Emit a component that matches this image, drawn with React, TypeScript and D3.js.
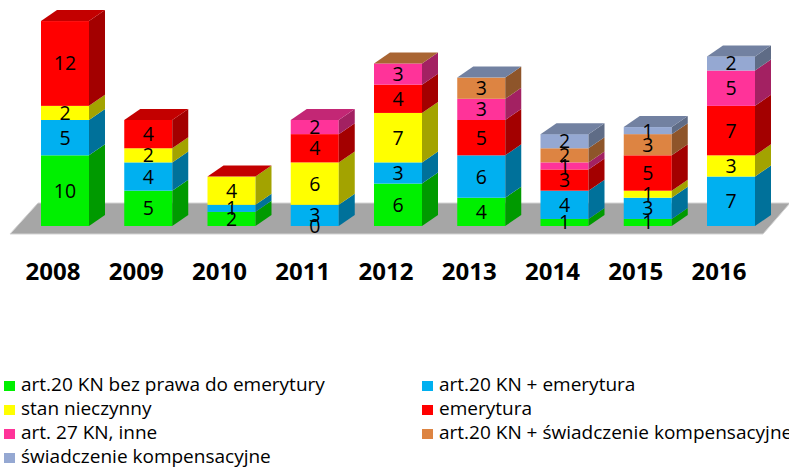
import React, { useEffect, useRef } from "react";
import * as d3 from "d3";

const years = ["2008", "2009", "2010", "2011", "2012", "2013", "2014", "2015", "2016"];

const seriesNames = [
  "art.20 KN bez prawa do emerytury",
  "art.20 KN + emerytura",
  "stan nieczynny",
  "emerytura",
  "art. 27 KN, inne",
  "art.20 KN + świadczenie kompensacyjne",
  "świadczenie kompensacyjne",
];

const seriesColors = ["#00f000", "#00b0f0", "#ffff00", "#ff0000", "#ff3399", "#dd8442", "#95a8d2"];

// null = empty cell
const artBezPrawa = [10, 5, 2, 0, 6, 4, 1, 1, null];
const artEmerytura = [5, 4, 1, 3, 3, 6, 4, 3, 7];
const stanNieczynny = [2, 2, 4, 6, 7, null, null, 1, 3];
const emerytura = [12, 4, 0, 4, 4, 5, 3, 5, 7];
const art27 = [null, null, null, 2, 3, 3, 1, null, 5];
const artKompens = [null, null, null, null, 0, 3, 2, 3, null];
const swiadczenie = [null, null, null, null, null, 0, 2, 1, 2];

const seriesValues = [artBezPrawa, artEmerytura, stanNieczynny, emerytura, art27, artKompens, swiadczenie];

export default function App() {
  const ref = useRef<SVGSVGElement>(null);

  useEffect(() => {
    const svg = d3.select(ref.current);
    svg.selectAll("*").remove();

    const baseY = 226;
    const dx = 16;
    const dy = -11;

    const x = d3
      .scaleBand()
      .domain(years)
      .range([41, 755])
      .paddingInner(0.4234)
      .paddingOuter(0);
    const y = d3.scaleLinear().domain([0, 30]).range([baseY, 14]);

    // floor
    svg
      .append("path")
      .attr("d", "M10,234 L38,203 L790,203 L763,234 Z")
      .attr("fill", "#a6a6a6")
      .attr("stroke", "#d4d4d4")
      .attr("stroke-width", 1);

    const font = "'Open Sans', 'Noto Sans', sans-serif";

    years.forEach((year, i) => {
      const x0 = x(year)!;
      const w = x.bandwidth();
      let cum = 0;
      let topIdx = -1;
      const labels: { v: number; cy: number }[] = [];

      seriesValues.forEach((vals, s) => {
        const v = vals[i];
        if (v === null || v === undefined) return;
        topIdx = s;
        const y0 = y(cum);
        const y1 = y(cum + v);
        cum += v;
        const c = seriesColors[s];
        if (v > 0) {
          // front
          svg
            .append("rect")
            .attr("x", x0)
            .attr("y", y1)
            .attr("width", w)
            .attr("height", y0 - y1)
            .attr("fill", c);
          // side
          svg
            .append("path")
            .attr(
              "d",
              `M${x0 + w},${y0} L${x0 + w + dx},${y0 + dy} L${x0 + w + dx},${y1 + dy} L${x0 + w},${y1} Z`
            )
            .attr("fill", d3.color(c)!.darker(1.25).toString());
        }
        // zero shows a label only at the bottom of the stack
        if (v > 0 || s === 0) labels.push({ v, cy: (y0 + y1) / 2 });
      });

      // top face
      if (topIdx >= 0) {
        const yt = y(cum);
        svg
          .append("path")
          .attr(
            "d",
            `M${x0},${yt} L${x0 + dx},${yt + dy} L${x0 + w + dx},${yt + dy} L${x0 + w},${yt} Z`
          )
          .attr("fill", d3.color(seriesColors[topIdx])!.darker(0.75).toString());
      }

      labels.forEach((l) => {
        svg
          .append("text")
          .attr("x", x0 + w / 2)
          .attr("y", l.cy)
          .attr("dy", "0.36em")
          .attr("text-anchor", "middle")
          .style("font-family", font)
          .style("font-size", "19.5px")
          .attr("fill", "#000")
          .text(l.v);
      });

      // year label
      svg
        .append("text")
        .attr("x", x0 + w / 2 - 12)
        .attr("y", 280)
        .attr("text-anchor", "middle")
        .style("font-family", font)
        .style("font-size", "24px")
        .style("font-weight", "bold")
        .attr("fill", "#000")
        .text(year);
    });

    // legend
    const legendPos = [
      [4, 391],
      [422, 391],
      [4, 415],
      [422, 415],
      [4, 439],
      [422, 439],
      [4, 463],
    ];
    seriesNames.forEach((name, s) => {
      const [lx, ly] = legendPos[s];
      svg
        .append("rect")
        .attr("x", lx)
        .attr("y", ly - 10)
        .attr("width", 11)
        .attr("height", 10)
        .attr("fill", seriesColors[s]);
      svg
        .append("text")
        .attr("x", lx + 17)
        .attr("y", ly)
        .style("font-family", font)
        .style("font-size", "19px")
        .attr("fill", "#000")
        .text(name);
    });
  }, []);

  return (
    <svg
      ref={ref}
      width={789}
      height={470}
      style={{ position: "absolute", left: 0, top: 0, background: "#fff" }}
    />
  );
}
